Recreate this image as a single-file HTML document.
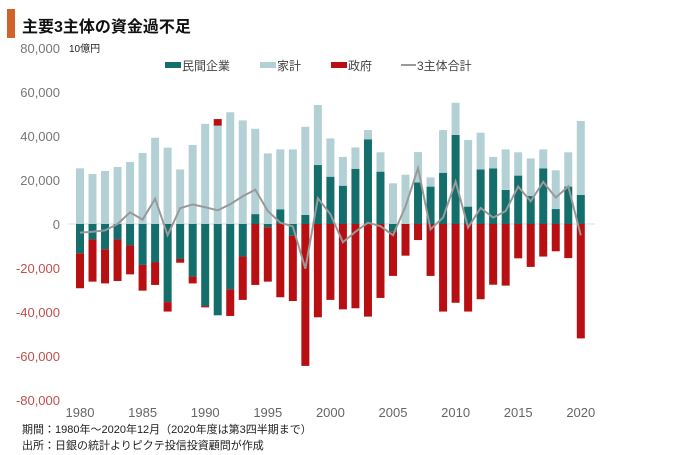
<!DOCTYPE html>
<html><head><meta charset="utf-8">
<style>
body{margin:0;background:#fff;font-family:"Liberation Sans","Noto Sans CJK JP",sans-serif;}
#wrap{position:relative;width:680px;height:455px;overflow:hidden;}
</style></head>
<body>
<div id="wrap">
<svg id="chart" width="680" height="455" xmlns="http://www.w3.org/2000/svg">
<rect x="7" y="9" width="8" height="29" fill="#d2612a"/>
<text x="22" y="32" font-size="16" font-weight="bold" fill="#111" font-family="Liberation Sans, Noto Sans CJK JP, sans-serif">主要3主体の資金過不足</text>
<text x="69" y="52" font-size="10" fill="#222" font-family="Liberation Sans, Noto Sans CJK JP, sans-serif">10億円</text>
<g id="legend" font-size="12" fill="#444" font-family="Liberation Sans, Noto Sans CJK JP, sans-serif">
<rect x="165" y="62" width="16" height="6" fill="#136e6c"/>
<text x="182" y="70">民間企業</text>
<rect x="260" y="62" width="16" height="6" fill="#b3d1d5"/>
<text x="277" y="70">家計</text>
<rect x="331" y="62" width="16" height="6" fill="#b80f13"/>
<text x="348" y="70">政府</text>
<line x1="401" y1="65" x2="416" y2="65" stroke="#999" stroke-width="2"/>
<text x="417" y="70">3主体合計</text>
</g>
<g id="yaxis"></g><g id="bars"></g><g id="line"></g><g id="xaxis"></g>
<text x="22" y="433" font-size="11" fill="#222" font-family="Liberation Sans, Noto Sans CJK JP, sans-serif">期間：1980年～2020年12月（2020年度は第3四半期まで）</text>
<text x="22" y="449" font-size="11" fill="#222" font-family="Liberation Sans, Noto Sans CJK JP, sans-serif">出所：日銀の統計よりピクテ投信投資顧問が作成</text>
</svg>
</div>
<script>
const years = [1980,1981,1982,1983,1984,1985,1986,1987,1988,1989,1990,1991,1992,1993,1994,1995,1996,1997,1998,1999,2000,2001,2002,2003,2004,2005,2006,2007,2008,2009,2010,2011,2012,2013,2014,2015,2016,2017,2018,2019,2020];
const corporate = [-13300,-7000,-11500,-7000,-9800,-18600,-17300,-35500,-15900,-23900,-37300,-41500,-29700,-14800,4500,-1500,6700,-5300,4100,26800,21500,17400,25100,38500,23800,-3500,0,18900,17000,23300,40500,7900,24800,25300,15500,22000,12700,25300,6800,17000,13200];
const household = [25300,22700,24100,25900,28200,32300,39200,34700,24800,35900,45500,44700,50800,47100,38800,32100,27200,33900,40100,27300,17400,13100,9700,4200,8800,18500,22400,13800,4200,19400,14600,30300,16700,5200,18400,10600,17100,8600,17600,15600,33600];
const government = [-15900,-19200,-15500,-18900,-13100,-11700,-10400,-4300,-1700,-3100,-600,3000,-12100,-19700,-27700,-24700,-33300,-29700,-64500,-42400,-34500,-38800,-38300,-42100,-33600,-20100,-14400,-7300,-23600,-39800,-35800,-39800,-34200,-27600,-28000,-15600,-19500,-14800,-12400,-15500,-52000];
const yTicks = [80000,60000,40000,20000,0,-20000,-40000,-60000,-80000];
const xTicks = [1980,1985,1990,1995,2000,2005,2010,2015,2020];

const NS="http://www.w3.org/2000/svg";
const y = v => 224 - v*44/20000;
const x = yr => 80 + (yr-1980)*12.52;
const BW = 8;
function mk(tag, attrs, parent){const e=document.createElementNS(NS,tag);for(const k in attrs)e.setAttribute(k,attrs[k]);parent.appendChild(e);return e;}
const gy=document.getElementById('yaxis'), gb=document.getElementById('bars'), gl=document.getElementById('line'), gx=document.getElementById('xaxis');
const FF="Liberation Sans, Noto Sans CJK JP, sans-serif";
yTicks.forEach(t=>{
  const e=mk('text',{x:60,y:y(t)+5,'text-anchor':'end','font-size':13,fill:t<0?'#c0504d':'#777','font-family':FF},gy);
  e.textContent=t.toLocaleString('en-US');
  
  
});
const zl=mk('line',{x1:68,x2:595,y1:y(0),y2:y(0),stroke:'#ddd','stroke-width':1},gy);


const colors={corporate:'#136e6c',household:'#b3d1d5',government:'#b80f13'};
years.forEach((yr,i)=>{
  let pos=0,neg=0;
  [['corporate',corporate[i]],['household',household[i]],['government',government[i]]].forEach(([k,v])=>{
    if(v===0)return;
    let top,bot;
    if(v>0){top=pos+v;bot=pos;pos=top;}else{top=neg;bot=neg+v;neg=bot;}
    const r=mk('rect',{x:x(yr)-BW/2,y:y(top),width:BW,height:y(bot)-y(top),fill:colors[k]},gb);
    
    
  });
});
const pts=years.map((yr,i)=>x(yr)+','+y(corporate[i]+household[i]+government[i])).join(' ');
const pl=mk('polyline',{points:pts,fill:'none',stroke:'#999','stroke-width':2},gl);


xTicks.forEach(t=>{
  const e=mk('text',{x:x(t),y:417,'text-anchor':'middle','font-size':13,fill:'#666','font-family':FF},gx);
  e.textContent=t;
  
  
});
</script>
</body></html>
